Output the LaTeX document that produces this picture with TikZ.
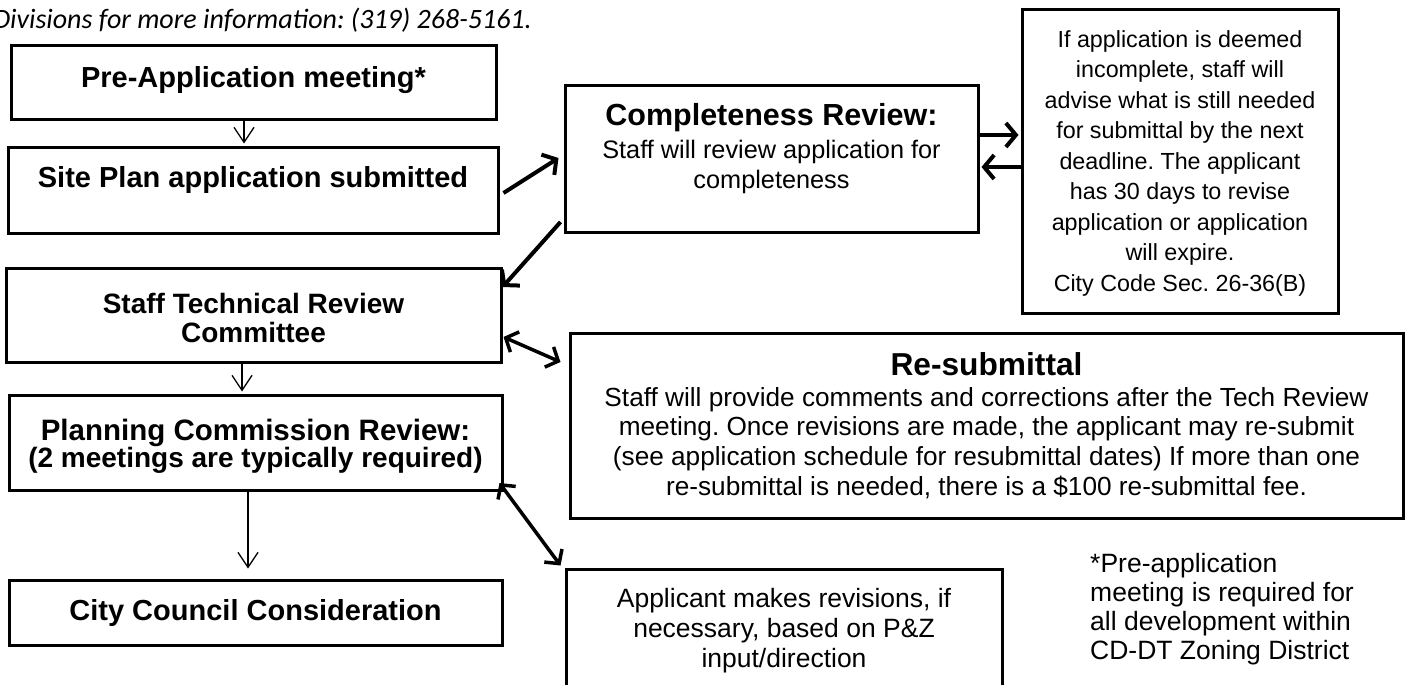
\documentclass[tikz,border=0pt]{standalone}
\usepackage{fontspec}
\setmainfont{Liberation Sans}
\newfontfamily\calfont{Carlito}
\usetikzlibrary{arrows.meta}
\newcommand\fl{\rule{0pt}{1em}}
\newcommand\fsz[2]{\fontsize{#1}{#2}\selectfont}
\frenchspacing
\begin{document}
\begin{tikzpicture}[x=1pt,y=-1pt,
 box/.style={draw, line width=3pt, inner sep=0pt},
 txt/.style={inner sep=0pt, align=center},
 thinarrow/.style={line width=1.3pt, -{Straight Barb[length=15pt,width=20pt]}},
 thickarrow/.style={line width=4pt, -{Straight Barb[length=10pt,width=24pt]}},
 dblarrow/.style={line width=3.5pt, {Straight Barb[length=10pt,width=22pt]}-{Straight Barb[length=10pt,width=22pt]}}]
\useasboundingbox (0,0) rectangle (1413,685);
\clip (0,0) rectangle (1413,685);

% header line
\node[inner sep=0pt, anchor=base east, font=\calfont\itshape\fsz{28}{30}] (hdr) at (532,29) {Divisions for more information: (319) 268-5161.};

% boxes
\node[box, minimum width=485, minimum height=73] (b1) at (253.5,82.5) {};
\node[box, minimum width=490, minimum height=86] (b2) at (253,190) {};
\node[box, minimum width=413, minimum height=147] (b3) at (771.5,158.5) {};
\node[box, minimum width=316, minimum height=303] (b4) at (1180,161.5) {};
\node[box, minimum width=495, minimum height=94] (b5) at (253.5,315) {};
\node[box, minimum width=493, minimum height=95] (b6) at (255.5,442.5) {};
\node[box, minimum width=493, minimum height=65] (b7) at (255.5,612.5) {};
\node[box, minimum width=833, minimum height=185] (b8) at (986.5,425.5) {};
\node[box, minimum width=436, minimum height=151] (b9) at (784,644.5) {};

% texts
\node[txt, anchor=base, font=\bfseries\fsz{29}{30}] (t1) at (253.5,88) {Pre-Application meeting*};
\node[txt, anchor=base, font=\bfseries\fsz{29}{30}] (t2) at (253,187) {Site Plan application submitted};
\node[txt, anchor=base, font=\bfseries\fsz{30.5}{31}] (t3a) at (771.5,125) {Completeness Review:};
\node[txt, anchor=north, font=\fsz{25.3}{30}] (t3b) at (771.5,132.7) {\fl Staff will review application for\\completeness};
\node[txt, anchor=north, font=\fsz{23.3}{30.5}] (t4) at (1180,23.7) {\fl If application is deemed\\incomplete, staff will\\advise what is still needed\\for submittal by the next\\deadline. The applicant\\has 30 days to revise\\application or application\\will expire.\\City Code Sec. 26-36(B)};
\node[txt, anchor=north, font=\bfseries\fsz{28}{29}] (t5) at (253.5,285) {\fl Staff Technical Review\\Committee};
\node[txt, anchor=base, font=\bfseries\fsz{29.5}{30}] (t6a) at (255.5,440) {Planning Commission Review:};
\node[txt, anchor=base, font=\bfseries\fsz{28}{29}] (t6b) at (255.5,467) {(2 meetings are typically required)};
\node[txt, anchor=base, font=\bfseries\fsz{29}{30}] (t7) at (255.5,620) {City Council Consideration};
\node[txt, anchor=base, font=\bfseries\fsz{31.7}{32}] (t8a) at (986.5,375) {Re-submittal};
\node[txt, anchor=north, font=\fsz{26.2}{29.7}] (t8b) at (986.5,379.8) {\fl Staff will provide comments and corrections after the Tech Review\\meeting. Once revisions are made, the applicant may re-submit\\(see application schedule for resubmittal dates) If more than one\\re-submittal is needed, there is a \$100 re-submittal fee.};
\node[txt, anchor=north, font=\fsz{26.5}{30}] (t9) at (784,580.5) {\fl Applicant makes revisions, if\\necessary, based on P\&Z\\input/direction};
\node[txt, anchor=north west, align=left, font=\fsz{26.5}{29}] (t10) at (1090,545.5) {\fl *Pre-application\\meeting is required for\\all development within\\CD-DT Zoning District};

% connectors
\draw[thinarrow] ([shift={(-9.5,0)}]b1.south) -- ([shift={(-9,-2)}]b2.north);
\draw[thinarrow] ([shift={(-11.5,0)}]b5.south) -- ([shift={(-13.5,-2)}]b6.north);
\draw[thinarrow] ([shift={(-7.5,0)}]b6.south) -- ([shift={(-7.5,-10)}]b7.north);
\draw[thickarrow] ([shift={(4,3)}]b2.east) -- ([shift={(-5,-0.5)}]b3.west);
\draw[thickarrow] ([shift={(-3,63.5)}]b3.west) -- ([shift={(0,-28)}]b5.east);
\draw[thickarrow] ([shift={(0,-23.5)}]b3.east) -- ([shift={(-2,-26.5)}]b4.west);
\draw[thickarrow] ([shift={(0,5.5)}]b4.west) -- ([shift={(2,8.5)}]b3.east);
\draw[dblarrow] ([shift={(1,22)}]b5.east) -- ([shift={(-8,-63.5)}]b8.west);
\draw[dblarrow] ([shift={(-4,40.5)}]b6.east) -- ([shift={(-4,-2)}]b9.north west);
\end{tikzpicture}
\end{document}
